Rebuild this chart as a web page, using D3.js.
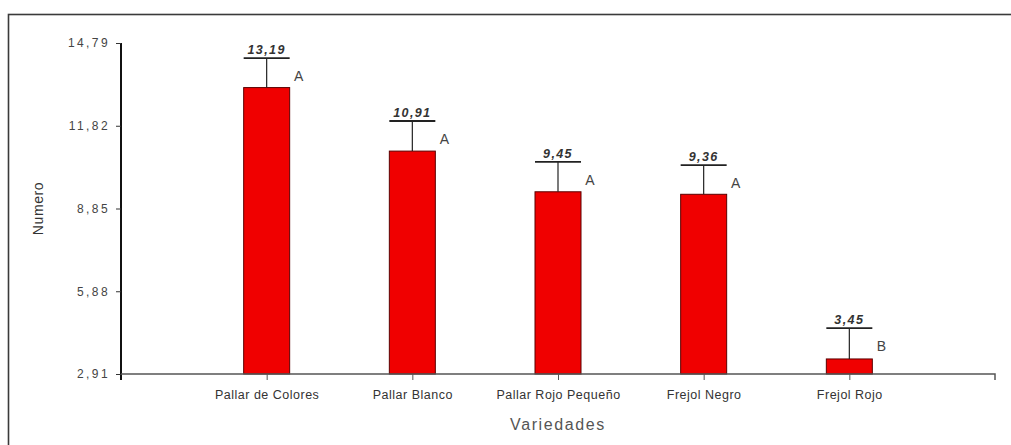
<!DOCTYPE html>
<html>
<head>
<meta charset="utf-8">
<script src="https://cdn.jsdelivr.net/npm/d3@7"></script>
<style>
  html, body { margin: 0; padding: 0; background: #fff; overflow: hidden; }
  svg { display: block; }
  text { font-family: "Liberation Sans", Arial, sans-serif; }
</style>
</head>
<body>
<script>
// Mean number per variety, with error and significance group
const categories = ["Pallar de Colores", "Pallar Blanco", "Pallar Rojo Pequeño", "Frejol Negro", "Frejol Rojo"];
const means = [13.19, 10.91, 9.45, 9.36, 3.45];
const errors = [1.06, 1.08, 1.07, 1.05, 1.11];
const groups = ["A", "A", "A", "A", "B"];
const yTicks = [2.91, 5.88, 8.85, 11.82, 14.79];

const W = 1011, H = 445;
const svg = d3.select("body").append("svg").attr("width", W).attr("height", H);

// Outer frame (runs past the right and bottom edges)
svg.append("rect")
  .attr("x", 8.5).attr("y", 14.5).attr("width", 1020).attr("height", 450)
  .attr("fill", "none").attr("stroke", "#3a3a3a").attr("stroke-width", 1.6);

const x0 = 121, x1 = 995, yTop = 43, yBot = 374;
const x = d3.scalePoint().domain(categories).range([x0, x1]).padding(1);
const y = d3.scaleLinear().domain([yTicks[0], yTicks[yTicks.length - 1]]).range([yBot, yTop]);
const fmt = v => v.toFixed(2).replace(".", ",");
const barW = 46;

// Bars
const g = svg.append("g");
g.selectAll("rect.bar").data(categories).join("rect")
  .attr("class", "bar")
  .attr("x", (d) => x(d) - barW / 2)
  .attr("y", (d, i) => y(means[i]))
  .attr("width", barW)
  .attr("height", (d, i) => y(yTicks[0]) - y(means[i]))
  .attr("fill", "#f00000").attr("stroke", "#5a0000").attr("stroke-width", 1);

// Error bars
g.selectAll("line.err").data(categories).join("line")
  .attr("class", "err")
  .attr("x1", d => x(d)).attr("x2", d => x(d))
  .attr("y1", (d, i) => y(means[i])).attr("y2", (d, i) => y(means[i] + errors[i]))
  .attr("stroke", "#222").attr("stroke-width", 1.2);
g.selectAll("line.cap").data(categories).join("line")
  .attr("class", "cap")
  .attr("x1", d => x(d) - barW / 2).attr("x2", d => x(d) + barW / 2)
  .attr("y1", (d, i) => y(means[i] + errors[i])).attr("y2", (d, i) => y(means[i] + errors[i]))
  .attr("stroke", "#222").attr("stroke-width", 1.8);

// Mean labels above the caps
g.selectAll("text.val").data(categories).join("text")
  .attr("class", "val")
  .attr("x", d => x(d)).attr("y", (d, i) => y(means[i] + errors[i]) - 4)
  .attr("text-anchor", "middle")
  .attr("font-size", 12.5).attr("font-weight", "bold").attr("font-style", "italic")
  .attr("letter-spacing", 1.4)
  .attr("fill", "#333")
  .text((d, i) => fmt(means[i]));

// Group letters
g.selectAll("text.grp").data(categories).join("text")
  .attr("class", "grp")
  .attr("x", d => x(d) + 32).attr("y", (d, i) => y(means[i] + errors[i]) + 23)
  .attr("text-anchor", "middle")
  .attr("font-size", 14).attr("fill", "#444")
  .text((d, i) => groups[i]);

// Y axis
const yAxis = svg.append("g").attr("transform", `translate(${x0},0)`)
  .call(d3.axisLeft(y).tickValues(yTicks).tickFormat(fmt).tickSize(5).tickPadding(6));
yAxis.select(".domain").attr("stroke", "#111").attr("stroke-width", 2)
  .attr("d", `M0,${yTop}V${yBot + 6}`);
yAxis.selectAll(".tick line").attr("stroke", "#333");
yAxis.selectAll(".tick text").attr("font-size", 12).attr("fill", "#444")
  .attr("letter-spacing", 2.4)
  .attr("font-family", "Liberation Sans, Arial, sans-serif");

// X axis
const xAxis = svg.append("g").attr("transform", `translate(0,${yBot})`)
  .call(d3.axisBottom(x).tickSize(6).tickPadding(10));
xAxis.select(".domain").attr("stroke", "#555").attr("stroke-width", 1.5)
  .attr("d", `M${x0},0H${x1}V6`);
xAxis.selectAll(".tick line").attr("stroke", "#555");
xAxis.selectAll(".tick text").attr("font-size", 12.5).attr("fill", "#333")
  .attr("letter-spacing", 0.5)
  .attr("font-family", "Liberation Sans, Arial, sans-serif");

// Axis titles
svg.append("text")
  .attr("x", x(categories[2])).attr("y", 430)
  .attr("text-anchor", "middle").attr("font-size", 16).attr("fill", "#555")
  .attr("letter-spacing", 1.6)
  .text("Variedades");
svg.append("text")
  .attr("transform", `translate(43,${(yTop + yBot) / 2}) rotate(-90)`)
  .attr("text-anchor", "middle").attr("font-size", 14).attr("fill", "#333")
  .attr("letter-spacing", 0.6)
  .text("Numero");
</script>
</body>
</html>
